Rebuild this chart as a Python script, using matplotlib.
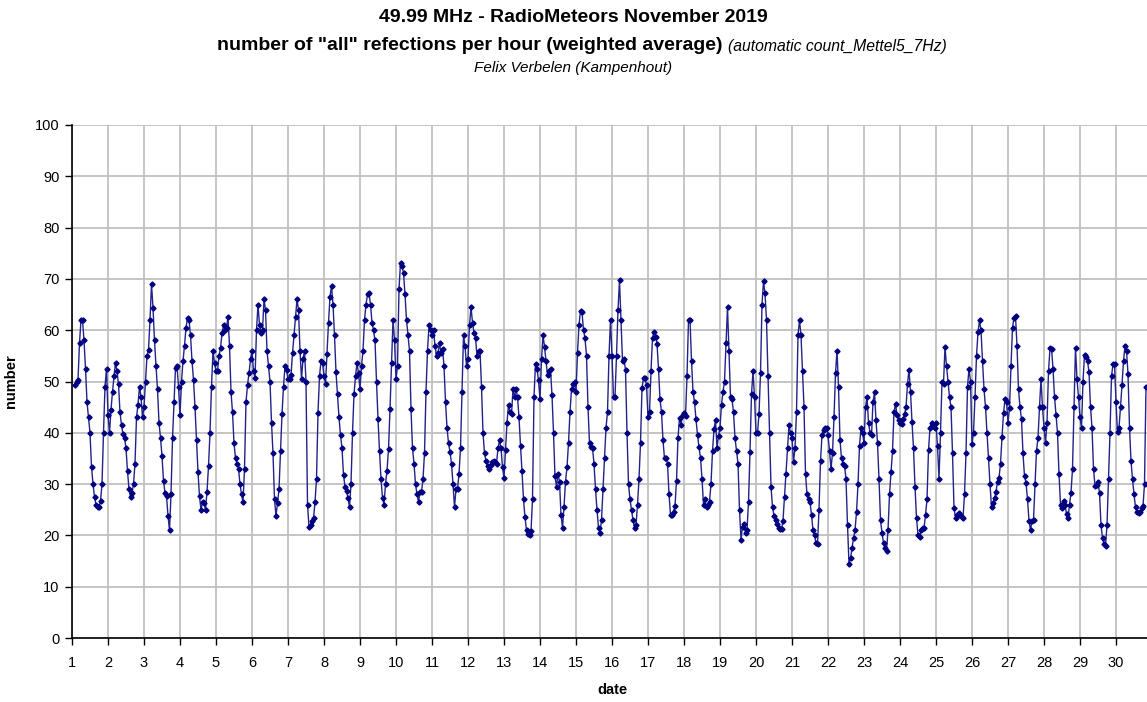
import numpy as np
import matplotlib
matplotlib.use("Agg")
import matplotlib.pyplot as plt

plt.rcParams['font.family'] = ['Liberation Sans', 'DejaVu Sans']

# Hourly counts, one list per day of November 2019 (hour 0..23).
# Day 1 starts at 02h, day 30 ends at 20h.
nov01 = [49.4, 50, 50.3, 57.5, 62, 62, 58, 52.5, 46, 43, 40, 33.4, 30, 27.5, 26, 25.6, 25.5, 26.7, 30, 40, 49, 52.5]
nov02 = [43.5, 40, 44.5, 48, 51, 53.7, 52, 49.5, 44, 41.5, 39.7, 39, 37, 32.5, 29, 27.5, 28.3, 30, 34, 43, 45.5, 49, 47, 43]
nov03 = [45, 50, 55, 56.2, 62, 69, 64.4, 58, 53, 48.5, 42, 39, 35.5, 30.6, 28.3, 27.7, 23.8, 21, 28, 38.9, 46, 52.7, 53, 49]
nov04 = [43.5, 50, 54, 57, 60.5, 62.3, 62, 59, 54, 50.3, 45, 38.5, 32.3, 27.6, 25, 26.5, 26.3, 25, 28.5, 33.5, 40, 49, 56, 53.6]
nov05 = [52, 52, 55, 56.5, 59.4, 61, 60, 60.5, 62.6, 57, 48, 44, 38, 35, 34, 33, 30, 28, 26.5, 33, 46, 49.3, 51.6, 54.3]
nov06 = [56, 52, 50.7, 60, 65, 61, 59.5, 60, 66, 64, 56, 53, 50, 42, 36, 27, 23.8, 26.3, 29, 36.5, 43.6, 49, 53, 52.3]
nov07 = [50.4, 50.4, 51.2, 55.5, 59, 62.6, 66, 64, 56, 50.5, 54.4, 56, 50, 26, 21.6, 22, 22.8, 23.3, 26.5, 31, 43.9, 51, 54, 53.6]
nov08 = [51, 49.5, 55.4, 61.5, 66.5, 68.7, 65, 59, 51.8, 47.5, 43, 39.5, 37, 31.8, 29.4, 28.6, 27.3, 25.5, 30, 40, 47.5, 51, 53.6, 51.6]
nov09 = [48.5, 53, 56, 62, 65, 67, 67.2, 65, 61.5, 60, 58, 50, 42.7, 36.5, 31, 27.3, 26, 30, 32.6, 36.8, 44.6, 53.6, 62, 58]
nov10 = [50.4, 53, 68, 73.1, 72.5, 71.2, 67, 62, 59, 56, 44.6, 37, 34, 30, 28, 26.5, 28.5, 28.5, 31, 36, 48, 56, 61, 60]
nov11 = [59, 60, 57, 55, 55.5, 57.5, 55.5, 56.4, 53, 46, 41, 38, 36.3, 34, 30, 25.5, 29, 29, 32, 37, 48, 59, 57, 53]
nov12 = [54.3, 61, 64.5, 61.5, 59.5, 58.5, 55, 56, 56, 49, 40, 36, 34.5, 33.5, 33, 33.7, 34.3, 34.6, 34.4, 34, 37, 38.5, 37, 33.3]
nov13 = [31.2, 36.6, 42, 45.5, 44, 43.6, 48.5, 47, 48.5, 47, 43, 37.5, 32.5, 27, 23.5, 21, 20.2, 20, 20.8, 27, 47, 53.5, 52.5, 50.2]
nov14 = [46.5, 54.4, 59, 56.8, 54, 51.3, 52, 52.4, 47.3, 40, 31.5, 29.5, 32, 30.5, 24, 21.5, 25.5, 30.5, 33.3, 38, 44, 48.5, 49.5, 50]
nov15 = [48, 55.6, 61, 63.8, 63.5, 60, 58.4, 55, 45, 38, 37.2, 37, 34, 29, 25, 21.5, 20.4, 23, 29, 35, 41, 44, 55, 62]
nov16 = [55, 47, 47, 55, 64, 69.7, 62, 54, 54.3, 52.3, 40, 30, 27, 25, 23, 21.5, 22, 26, 31, 38, 48.7, 50.6, 50.6, 49.3]
nov17 = [43, 44, 52, 58.5, 59.7, 58.7, 57.4, 52.5, 46.5, 44, 38.5, 35, 35, 34, 28, 24, 24, 24.6, 25.8, 30.6, 39, 42.9, 41.6, 43.5]
nov18 = [43.9, 43.2, 51, 62, 62, 54, 48, 46, 42.6, 39.6, 37.2, 35.1, 31, 26, 27, 25.5, 25.9, 26.6, 30, 36.4, 40.7, 42.5, 37, 39.4]
nov19 = [41, 45.5, 48, 50, 57.5, 64.5, 56, 47, 46.5, 44, 39, 36.5, 34, 25, 19.2, 21.7, 22.3, 20.5, 21, 26.5, 36.3, 47.5, 52, 47]
nov20 = [40, 40, 43.6, 51.6, 65, 69.5, 67.2, 62, 51, 40, 29.5, 25.5, 23.8, 23, 22.3, 21.5, 21.3, 21.2, 22.9, 27.5, 32, 37, 41.5, 40]
nov21 = [39, 34.3, 37, 44, 59, 62, 59, 52, 45, 32, 28, 27, 26.5, 24, 21, 20, 18.5, 18.4, 25, 34.5, 39.5, 40.6, 41, 41]
nov22 = [39.5, 36.5, 33, 36, 43, 51.6, 56, 49, 38.6, 35, 34, 33.6, 31, 22, 14.5, 15.5, 17.5, 19.5, 21, 24.5, 30, 37.5, 41, 40]
nov23 = [38, 45, 47, 42, 40, 39.5, 46, 47.9, 42.5, 38, 31, 23, 20.5, 18.5, 17.5, 17, 21, 28, 32.3, 36.5, 44, 45.7, 43.4, 42.5]
nov24 = [41.9, 41.7, 42.7, 43.6, 45, 49.5, 52.3, 48, 42.1, 37, 29.5, 23.4, 20, 19.6, 21, 21.4, 21.4, 24, 27, 36.6, 41, 42, 41.6, 41]
nov25 = [41.9, 37.4, 31, 40, 50, 49.6, 56.8, 53, 50, 47, 45, 36, 25.4, 23.4, 24, 24.3, 24, 23.5, 23.3, 28, 36, 49, 52.5, 50]
nov26 = [37.8, 40, 47, 55, 59.6, 61.9, 60, 54, 48.5, 45, 40, 35, 30, 25.5, 26.4, 27.2, 28.5, 30.5, 31.2, 34, 39.1, 43.8, 46.5, 46]
nov27 = [42, 44.8, 53, 60.5, 62.4, 62.7, 57, 48.5, 45, 42.6, 36, 31.5, 30.3, 27, 22.9, 21, 22.9, 23, 30, 36.5, 39, 45, 50.5, 45]
nov28 = [41, 38, 42, 52, 56.5, 56.4, 52.5, 47, 43.5, 40, 32, 26, 25.4, 26.7, 26, 24.2, 23.3, 26, 28.3, 33, 45, 56.6, 50.4, 47]
nov29 = [43, 41, 50, 55.2, 54.8, 54, 51.8, 45, 41, 33, 29.6, 29.9, 30.4, 28.3, 22, 19.5, 18.3, 18, 22, 31, 40, 51, 53.4, 53.4]
nov30 = [46, 40.1, 41, 45, 49.3, 54, 57, 56, 51.5, 41, 34.5, 31, 28, 25.5, 24.5, 24.3, 24.5, 25.4, 25.7, 30, 49]

days = [nov01, nov02, nov03, nov04, nov05, nov06, nov07, nov08, nov09, nov10,
        nov11, nov12, nov13, nov14, nov15, nov16, nov17, nov18, nov19, nov20,
        nov21, nov22, nov23, nov24, nov25, nov26, nov27, nov28, nov29, nov30]
first_hour = {1: 2}

date_ticks = list(range(1, 31))
number_ticks = list(range(0, 101, 10))

t, y = [], []
for d, vals in enumerate(days, start=1):
    h0 = first_hour.get(d, 0)
    for k, v in enumerate(vals):
        t.append(d + (h0 + k) / 24.0)
        y.append(v)
t = np.array(t)
y = np.array(y)

W, H = 1147, 702
fig = plt.figure(figsize=(W / 100, H / 100), dpi=100)
ax = fig.add_axes([72 / W, 1 - 638 / H, (W - 72) / W, (638 - 125) / H])

ax.plot(t, y, color='#22228a', lw=1.0, marker='D', markersize=2.6,
        markerfacecolor='#000080', markeredgecolor='#000080', zorder=3)

ax.set_xlim(1, 1 + (W - 72) / 36.0)
ax.set_ylim(0, 100)
ax.set_xticks(date_ticks)
ax.set_yticks(number_ticks)
ax.grid(True, color='#c0c0c0', lw=1.3)
ax.set_axisbelow(True)
for s in ('top', 'right'):
    ax.spines[s].set_visible(False)
for s in ('left', 'bottom'):
    ax.spines[s].set_color('black')
    ax.spines[s].set_linewidth(1.2)
ax.tick_params(axis='x', direction='out', length=5, width=1, labelsize=10.5, pad=8, colors='black')
ax.tick_params(axis='y', direction='out', length=5, width=1, labelsize=10.5, pad=4, colors='black')

ax.set_xlabel('date', fontsize=10.5, fontweight='bold')
ax.xaxis.set_label_coords((612 - 72) / (W - 72), -(683 - 638) / (638 - 125))
ax.set_ylabel('number', fontsize=10.5, fontweight='bold')
ax.yaxis.set_label_coords(-(72 - 18) / (W - 72), 0.5)

fig.text(0.5, 1 - 18 / H, '49.99 MHz - RadioMeteors November 2019', ha='center', va='center',
         fontsize=14, fontweight='bold')
fig.text(723 / W, 1 - 46 / H, 'number of "all" refections per hour (weighted average)',
         ha='right', va='center', fontsize=14, fontweight='bold')
fig.text(728 / W, 1 - 46 / H, '(automatic count_Mettel5_7Hz)', ha='left', va='center',
         fontsize=11.3, style='italic')
fig.text(0.5, 1 - 68 / H, 'Felix Verbelen (Kampenhout)', ha='center', va='center',
         fontsize=11, style='italic')

fig.savefig('out.png', dpi=100)
